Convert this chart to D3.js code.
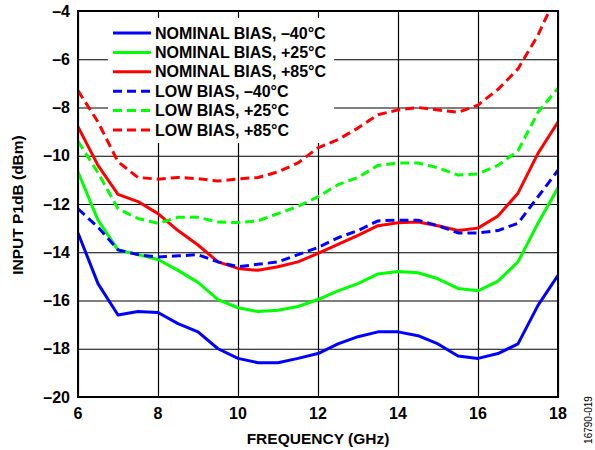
<!DOCTYPE html>
<html lang="en">
<head>
  <meta charset="UTF-8">
  <title>Input P1dB vs Frequency</title>
  <script src="https://d3js.org/d3.v7.min.js"></script>
  <style>
    body { margin: 0; background: #fff; font-family: Arial, "Liberation Sans", sans-serif; }
    text { font-family: Arial, "Liberation Sans", sans-serif; }
  </style>
</head>
<body>
  <svg width="595" height="450"></svg>

  <script>
    // frequency points (GHz)
    const freq = [6, 6.5, 7, 7.5, 8, 8.5, 9, 9.5, 10, 10.5, 11, 11.5, 12, 12.5, 13, 13.5, 14, 14.5, 15, 15.5, 16, 16.5, 17, 17.5, 18];

    // input P1dB (dBm)
    const nominalM40 = [-13.2, -15.3, -16.6, -16.46, -16.5, -16.96, -17.3, -18.0, -18.4, -18.58, -18.58, -18.4, -18.2, -17.8, -17.5, -17.3, -17.3, -17.46, -17.8, -18.3, -18.4, -18.2, -17.8, -16.2, -14.96];
    const nominalP25 = [-10.67, -12.67, -13.9, -14.1, -14.3, -14.75, -15.25, -15.96, -16.3, -16.46, -16.4, -16.25, -15.96, -15.6, -15.3, -14.9, -14.8, -14.85, -15.1, -15.5, -15.6, -15.2, -14.4, -12.8, -11.33];
    const nominalP85 = [-8.8, -10.4, -11.6, -11.9, -12.4, -13.1, -13.7, -14.4, -14.67, -14.75, -14.6, -14.4, -14.05, -13.67, -13.3, -12.9, -12.78, -12.75, -12.9, -13.1, -13.0, -12.5, -11.55, -9.9, -8.6];
    const lowM40 = [-12.2, -12.96, -13.9, -14.1, -14.2, -14.15, -14.1, -14.4, -14.6, -14.5, -14.4, -14.1, -13.8, -13.4, -13.1, -12.7, -12.67, -12.67, -12.9, -13.2, -13.2, -13.1, -12.8, -11.7, -10.6];
    const lowP25 = [-9.4, -10.7, -12.2, -12.6, -12.8, -12.55, -12.55, -12.75, -12.77, -12.7, -12.4, -12.1, -11.7, -11.2, -10.9, -10.4, -10.3, -10.3, -10.5, -10.8, -10.75, -10.4, -9.8, -8.2, -7.2];
    const lowP85 = [-7.3, -8.6, -10.25, -10.9, -10.97, -10.9, -10.95, -11.05, -10.96, -10.9, -10.67, -10.3, -9.67, -9.33, -8.85, -8.3, -8.1, -8.0, -8.1, -8.2, -7.9, -7.25, -6.4, -5.0, -3.2];

    const seriesNames = ["NOMINAL BIAS, \u201340\u00b0C", "NOMINAL BIAS, +25\u00b0C", "NOMINAL BIAS, +85\u00b0C",
                         "LOW BIAS, \u201340\u00b0C", "LOW BIAS, +25\u00b0C", "LOW BIAS, +85\u00b0C"];
    const seriesValues = [nominalM40, nominalP25, nominalP85, lowM40, lowP25, lowP85];

    const xTicks = [6, 8, 10, 12, 14, 16, 18];
    const yTicks = [-20, -18, -16, -14, -12, -10, -8, -6, -4];

    const colors = ["#0000ff", "#00ff00", "#ff0000", "#0000ff", "#00ff00", "#ff0000"];
    const dashed = [false, false, false, true, true, true];

    const svg = d3.select("svg");
    const plotL = 78, plotR = 558, plotT = 11, plotB = 397;

    const x = d3.scaleLinear().domain([6, 18]).range([plotL, plotR]);
    const y = d3.scaleLinear().domain([-20, -4]).range([plotB, plotT]);

    svg.append("defs").append("clipPath").attr("id", "plot-clip")
      .append("rect")
        .attr("x", plotL).attr("y", plotT)
        .attr("width", plotR - plotL).attr("height", plotB - plotT);

    // grid
    const grid = svg.append("g");
    grid.append("g")
      .attr("transform", `translate(0,${plotB})`)
      .call(d3.axisBottom(x).tickValues(xTicks).tickSize(-(plotB - plotT)).tickFormat(""))
      .call(g => g.select(".domain").remove())
      .selectAll("line").attr("stroke", "#000").attr("stroke-width", 1.2);
    grid.append("g")
      .attr("transform", `translate(${plotL},0)`)
      .call(d3.axisLeft(y).tickValues(yTicks).tickSize(-(plotR - plotL)).tickFormat(""))
      .call(g => g.select(".domain").remove())
      .selectAll("line").attr("stroke", "#000").attr("stroke-width", 1.2);

    // legend background hides the grid
    svg.append("rect")
      .attr("x", 108).attr("y", 18)
      .attr("width", 226).attr("height", 125)
      .attr("fill", "#fff");

    // curves
    const line = d3.line()
      .x((d, i) => x(freq[i]))
      .y(d => y(d));

    svg.append("g")
      .attr("clip-path", "url(#plot-clip)")
      .selectAll("path")
      .data(seriesValues)
      .join("path")
        .attr("d", d => line(d))
        .attr("fill", "none")
        .attr("stroke", (d, i) => colors[i])
        .attr("stroke-width", 3)
        .attr("stroke-linejoin", "round")
        .attr("stroke-dasharray", (d, i) => dashed[i] ? "9,5" : null);

    // frame
    svg.append("rect")
      .attr("x", plotL).attr("y", plotT)
      .attr("width", plotR - plotL).attr("height", plotB - plotT)
      .attr("fill", "none")
      .attr("stroke", "#000")
      .attr("stroke-width", 2);

    // tick labels
    svg.append("g")
      .selectAll("text")
      .data(yTicks)
      .join("text")
        .attr("x", plotL - 8)
        .attr("y", d => y(d) + 5.5)
        .attr("text-anchor", "end")
        .attr("font-size", 16)
        .attr("font-weight", "bold")
        .text(d => d < 0 ? "\u2013" + Math.abs(d) : d);

    svg.append("g")
      .selectAll("text")
      .data(xTicks)
      .join("text")
        .attr("x", d => x(d))
        .attr("y", 419)
        .attr("text-anchor", "middle")
        .attr("font-size", 16)
        .attr("font-weight", "bold")
        .text(d => d);

    // axis titles
    svg.append("text")
      .attr("x", (plotL + plotR) / 2)
      .attr("y", 444)
      .attr("text-anchor", "middle")
      .attr("font-size", 15.5)
      .attr("font-weight", "bold")
      .text("FREQUENCY (GHz)");

    svg.append("text")
      .attr("transform", `translate(23,205) rotate(-90)`)
      .attr("text-anchor", "middle")
      .attr("font-size", 15.5)
      .attr("font-weight", "bold")
      .text("INPUT P1dB (dBm)");

    svg.append("text")
      .attr("transform", "translate(592,420) rotate(-90)")
      .attr("text-anchor", "middle")
      .attr("font-size", 10)
      .text("16790-019");

    // legend
    const legend = svg.append("g");
    seriesNames.forEach((name, i) => {
      const row = legend.append("g").attr("transform", `translate(113,${33 + i * 19.4})`);
      row.append("line")
        .attr("x1", 0).attr("x2", 38)
        .attr("stroke", colors[i])
        .attr("stroke-width", 3)
        .attr("stroke-dasharray", dashed[i] ? "9,5" : null);
      row.append("text")
        .attr("x", 42)
        .attr("y", 5.5)
        .attr("font-size", 16)
        .attr("font-weight", "bold")
        .text(name);
    });
  </script>
</body>
</html>
